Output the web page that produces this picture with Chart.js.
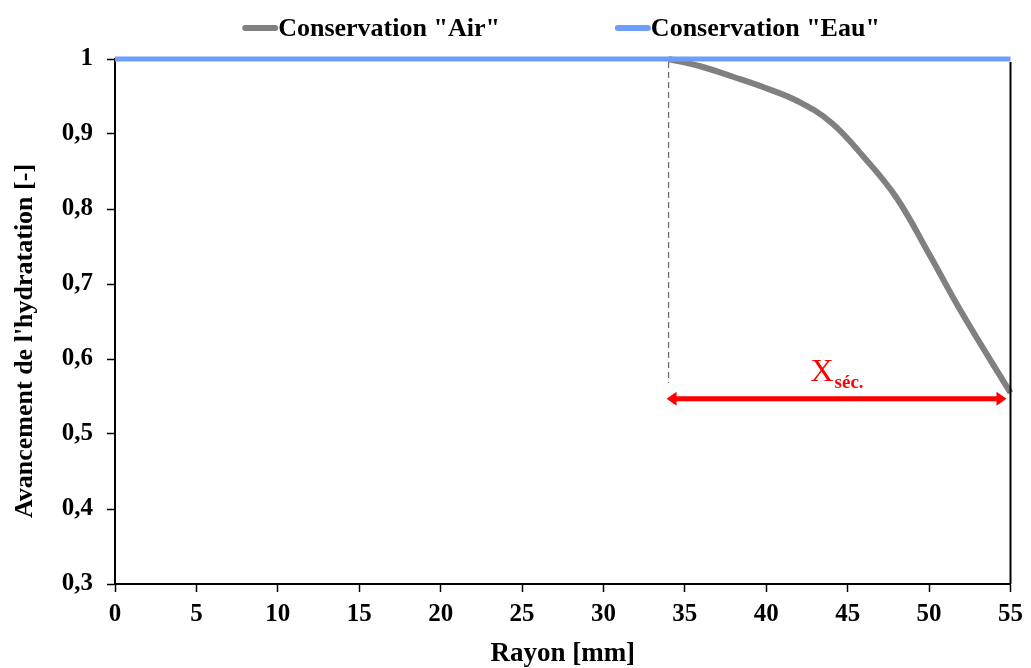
<!DOCTYPE html>
<html>
<head>
<meta charset="utf-8">
<script src="https://cdn.jsdelivr.net/npm/chart.js@4"></script>
<style>
  html, body { margin: 0; padding: 0; background: #fff; }
  #wrap { width: 1031px; height: 668px; }
</style>
</head>
<body>
<div id="wrap"><canvas id="myChart" width="1031" height="668"></canvas></div>
<script>
'use strict';
// values
let airRayon = [34, 36, 38, 40, 42, 44, 46, 48, 50, 52, 55];
let airAvancement = [1.0, 0.990, 0.976, 0.961, 0.943, 0.915, 0.869, 0.815, 0.740, 0.662, 0.555];
let eauRayon = [0, 55];
let eauAvancement = [1, 1];
let seriesNames = ['Conservation "Air"', 'Conservation "Eau"'];
let seriesColors = ['#808080', '#6d9eff'];
let xTicks = [0, 5, 10, 15, 20, 25, 30, 35, 40, 45, 50, 55];
let yTicks = [0.3, 0.4, 0.5, 0.6, 0.7, 0.8, 0.9, 1];
let dryStart = 34;
let dryEnd = 55;
let arrowLevel = 0.547;
let dashBottom = 0.568;

let serif = "'Liberation Serif', 'DejaVu Serif', serif";

function toPoints(xs, ys) {
    let pts = [];
    for (let i = 0; i < xs.length; i++) {
        pts.push({ x: xs[i], y: ys[i] });
    }
    return pts;
}

// legend, right border, dashed line and the X séc. arrow
let extras = {
    id: 'extras',
    afterDraw(chart) {
        let ctx = chart.ctx;
        let xs = chart.scales.x;
        let ys = chart.scales.y;
        let area = chart.chartArea;
        ctx.save();

        // right border
        ctx.strokeStyle = '#000';
        ctx.lineWidth = 2;
        ctx.beginPath();
        ctx.moveTo(area.right, area.top + 3);
        ctx.lineTo(area.right, area.bottom);
        ctx.stroke();

        // dashed vertical
        let xd = xs.getPixelForValue(dryStart);
        ctx.strokeStyle = '#6f6f6f';
        ctx.lineWidth = 1.3;
        ctx.setLineDash([6, 4]);
        ctx.beginPath();
        ctx.moveTo(xd, ys.getPixelForValue(1) + 3);
        ctx.lineTo(xd, ys.getPixelForValue(dashBottom));
        ctx.stroke();
        ctx.setLineDash([]);

        // double arrow
        let ya = ys.getPixelForValue(arrowLevel);
        let x1 = xs.getPixelForValue(dryStart) - 2;
        let x2 = xs.getPixelForValue(dryEnd) - 4;
        ctx.strokeStyle = '#ff0000';
        ctx.fillStyle = '#ff0000';
        ctx.lineWidth = 5;
        ctx.beginPath();
        ctx.moveTo(x1 + 8, ya);
        ctx.lineTo(x2 - 8, ya);
        ctx.stroke();
        ctx.beginPath();
        ctx.moveTo(x1, ya);
        ctx.lineTo(x1 + 10, ya - 7);
        ctx.lineTo(x1 + 10, ya + 7);
        ctx.closePath();
        ctx.fill();
        ctx.beginPath();
        ctx.moveTo(x2, ya);
        ctx.lineTo(x2 - 10, ya - 7);
        ctx.lineTo(x2 - 10, ya + 7);
        ctx.closePath();
        ctx.fill();

        // label X séc.
        ctx.textBaseline = 'alphabetic';
        ctx.textAlign = 'left';
        ctx.font = '32px ' + serif;
        let xw = ctx.measureText('X').width;
        ctx.font = 'bold 19px ' + serif;
        let sw = ctx.measureText('séc.').width;
        let lx = (x1 + x2) / 2 - (xw + sw) / 2;
        ctx.font = '32px ' + serif;
        ctx.fillText('X', lx, ya - 18);
        ctx.font = 'bold 19px ' + serif;
        ctx.fillText('séc.', lx + xw + 1, ya - 11);

        // legend
        ctx.font = 'bold 26px ' + serif;
        let swatch = 36;
        let gap = 115;
        let w0 = ctx.measureText(seriesNames[0]).width;
        let w1 = ctx.measureText(seriesNames[1]).width;
        let total = swatch + w0 + gap + swatch + w1;
        let lxStart = 561 - total / 2;
        let ly = 28;
        let pos = lxStart;
        for (let i = 0; i < 2; i++) {
            ctx.strokeStyle = seriesColors[i];
            ctx.lineWidth = 6;
            ctx.lineCap = 'round';
            ctx.beginPath();
            ctx.moveTo(pos + 3, ly);
            ctx.lineTo(pos + swatch - 3, ly);
            ctx.stroke();
            ctx.fillStyle = '#000';
            ctx.textBaseline = 'middle';
            ctx.fillText(seriesNames[i], pos + swatch, ly + 1);
            pos += swatch + (i === 0 ? w0 : w1) + gap;
        }
        ctx.restore();
    }
};

let ctx = document.getElementById('myChart').getContext('2d');
let myChart = new Chart(ctx, {
    type: 'line',
    data: {
        datasets: [{
            label: seriesNames[0],
            data: toPoints(airRayon, airAvancement),
            borderColor: seriesColors[0],
            backgroundColor: seriesColors[0],
            borderWidth: 6,
            pointRadius: 0,
            tension: 0.4,
            clip: false,
            order: 2
        }, {
            label: seriesNames[1],
            data: toPoints(eauRayon, eauAvancement),
            borderColor: seriesColors[1],
            backgroundColor: seriesColors[1],
            borderWidth: 5,
            pointRadius: 0,
            clip: false,
            order: 1
        }]
    },
    options: {
        responsive: false,
        animation: false,
        layout: { padding: { left: 0, right: 18, top: 59, bottom: 0 } },
        plugins: {
            legend: { display: false },
            tooltip: { enabled: false }
        },
        scales: {
            x: {
                type: 'linear',
                min: 0,
                max: 55,
                afterBuildTicks: function (axis) {
                    axis.ticks = xTicks.map(v => ({ value: v }));
                },
                afterFit: function (axis) { axis.height = 84; },
                border: { display: true, color: '#000', width: 2 },
                grid: { drawOnChartArea: false, color: '#000', tickLength: 8, tickWidth: 1.5 },
                ticks: {
                    color: '#000',
                    padding: 8,
                    maxRotation: 0,
                    font: { family: serif, size: 25, weight: 'bold' }
                },
                title: {
                    display: true,
                    text: 'Rayon [mm]',
                    color: '#000',
                    padding: { top: 0, bottom: 0 },
                    font: { family: serif, size: 27, weight: 'bold', lineHeight: 1 }
                }
            },
            y: {
                min: 0.3,
                max: 1,
                afterBuildTicks: function (axis) {
                    axis.ticks = yTicks.map(v => ({ value: v }));
                },
                afterFit: function (axis) { axis.width = 115; },
                border: { display: true, color: '#000', width: 2 },
                grid: { drawOnChartArea: false, color: '#000', tickLength: 8, tickWidth: 1.5 },
                ticks: {
                    color: '#000',
                    padding: 14,
                    font: { family: serif, size: 25, weight: 'bold' },
                    callback: function (v) { return String(Math.round(v * 10) / 10).replace('.', ','); }
                },
                title: {
                    display: true,
                    text: "Avancement de l'hydratation [-]      ",
                    color: '#000',
                    padding: { top: 12, bottom: 0 },
                    font: { family: serif, size: 26, weight: 'bold', lineHeight: 1 }
                }
            }
        }
    },
    plugins: [extras]
});
</script>
</body>
</html>
